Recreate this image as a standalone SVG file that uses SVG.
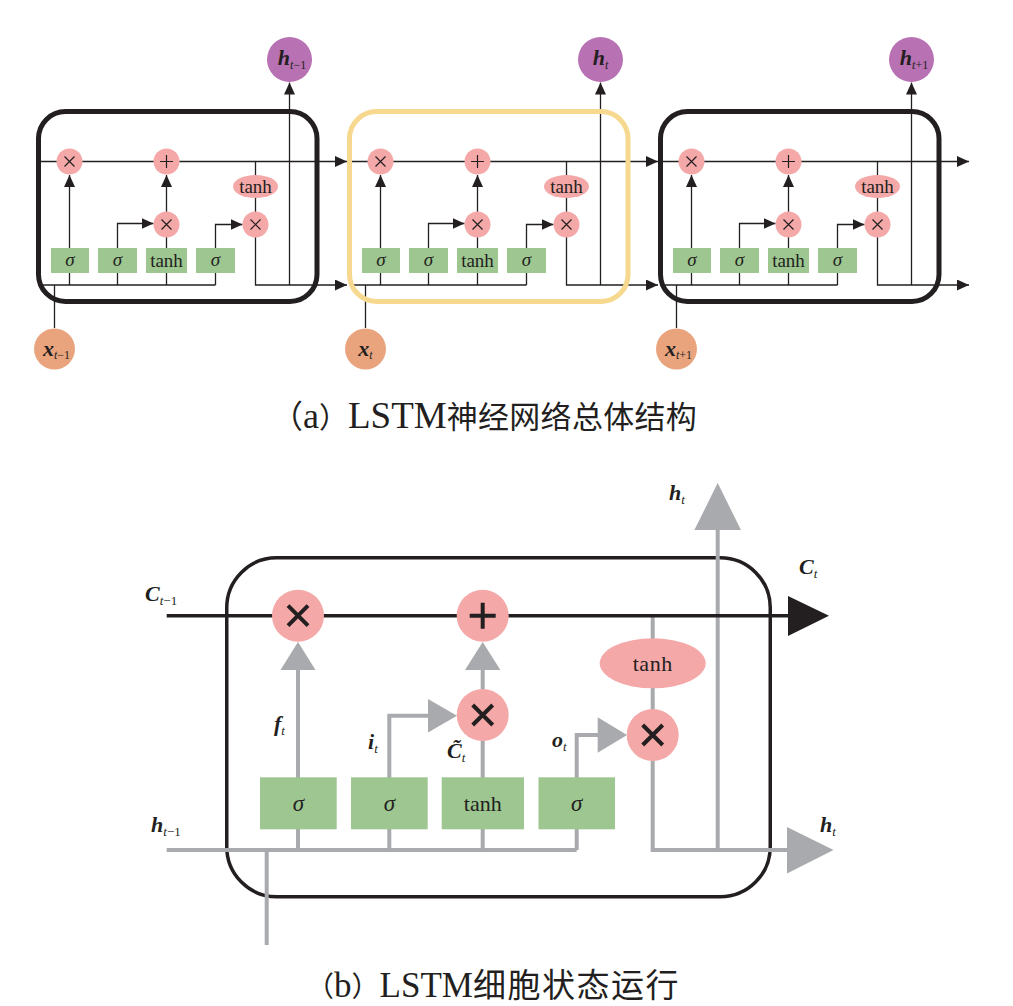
<svg xmlns="http://www.w3.org/2000/svg" xmlns:xlink="http://www.w3.org/1999/xlink" width="1013" height="1006" viewBox="0 0 1013 1006">
<style>
.bg{fill:#ffffff}
.cellK{fill:none;stroke:#231f20;stroke-width:5}
.cellY{fill:none;stroke:#f6d98e;stroke-width:5}
.ln{fill:none;stroke:#231f20;stroke-width:1.3}
.pk{fill:#f4a8a8}
.gr{fill:#9dc690}
.pu{fill:#b871b2}
.or{fill:#e9a47e}
.sym{stroke:#231f20;stroke-width:1.2;fill:none}
.symB{stroke:#231f20;stroke-width:4;fill:none}
.gl{fill:none;stroke:#a8aaad;stroke-width:4}
.gh{fill:#a8aaad}
.bk{fill:none;stroke:#231f20;stroke-width:3.5}
.t{font-family:"Liberation Serif",serif;fill:#231f20}
.v{font-family:"Liberation Serif",serif;font-weight:bold;font-style:italic;fill:#231f20}
.sb{font-family:"Liberation Serif",serif;font-weight:normal;fill:#231f20}
.it{font-style:italic}
.cap{fill:#231f20}
.capL{font-family:"Liberation Serif",serif}
.capC{font-family:"Noto Sans CJK SC",sans-serif}
</style>
<defs>
<marker id="ah" viewBox="0 0 12 11" refX="12" refY="5.5" markerWidth="12" markerHeight="11" markerUnits="userSpaceOnUse" orient="auto">
<path d="M0,0 L12,5.5 L0,11 z" fill="#231f20"/>
</marker>
<g id="ms"><path class="sym" d="M-5,-5 L5,5 M5,-5 L-5,5"/></g>
<g id="ps"><path class="sym" d="M-6.5,0 L6.5,0 M0,-6.5 L0,6.5"/></g>
<g id="mb"><path class="symB" d="M-10,-10 L10,10 M10,-10 L-10,10"/></g>
<g id="pb"><path class="symB" d="M-13,0 L13,0 M0,-13 L0,13"/></g>
</defs>
<rect class="bg" x="0" y="0" width="1013" height="1006"/>

<!-- ===== Panel (a) connectors ===== -->
<g id="connectors-a">
  <!-- cell 1 -->
  <path class="ln" d="M40 161.5 H347" marker-end="url(#ah)"/>
  <path class="ln" d="M40 285 H215.5"/>
  <path class="ln" d="M69.5 285 V175" marker-end="url(#ah)"/>
  <path class="ln" d="M117.5 285 V223.5 H153.5" marker-end="url(#ah)"/>
  <path class="ln" d="M166.5 285 V175" marker-end="url(#ah)"/>
  <path class="ln" d="M215.5 285 V224.5 H242.5" marker-end="url(#ah)"/>
  <path class="ln" d="M255.5 161.5 V285 H347" marker-end="url(#ah)"/>
  <path class="ln" d="M289.5 285 V82.5" marker-end="url(#ah)"/>
  <path class="ln" d="M54.5 328 V285"/>
  <!-- cell 2 -->
  <path class="ln" d="M349 161.5 H658" marker-end="url(#ah)"/>
  <path class="ln" d="M349 285 H526.5"/>
  <path class="ln" d="M380.5 285 V175" marker-end="url(#ah)"/>
  <path class="ln" d="M428.5 285 V223.5 H464.5" marker-end="url(#ah)"/>
  <path class="ln" d="M477.5 285 V175" marker-end="url(#ah)"/>
  <path class="ln" d="M526.5 285 V224.5 H553.5" marker-end="url(#ah)"/>
  <path class="ln" d="M566.5 161.5 V285 H658" marker-end="url(#ah)"/>
  <path class="ln" d="M600.5 285 V82.5" marker-end="url(#ah)"/>
  <path class="ln" d="M365.5 328 V285"/>
  <!-- cell 3 -->
  <path class="ln" d="M660 161.5 H969" marker-end="url(#ah)"/>
  <path class="ln" d="M660 285 H837.5"/>
  <path class="ln" d="M691.5 285 V175" marker-end="url(#ah)"/>
  <path class="ln" d="M739.5 285 V223.5 H775.5" marker-end="url(#ah)"/>
  <path class="ln" d="M788.5 285 V175" marker-end="url(#ah)"/>
  <path class="ln" d="M837.5 285 V224.5 H864.5" marker-end="url(#ah)"/>
  <path class="ln" d="M877.5 161.5 V285 H969" marker-end="url(#ah)"/>
  <path class="ln" d="M911.5 285 V82.5" marker-end="url(#ah)"/>
  <path class="ln" d="M676.5 328 V285"/>
</g>

<!-- ===== Panel (a) nodes ===== -->
<g id="cell1-box"><rect class="cellK" x="38.5" y="111.5" width="278.5" height="190" rx="27"/></g>
<g id="cell2-box"><rect class="cellY" x="349.5" y="111.5" width="278.5" height="190" rx="27"/></g>
<g id="cell3-box"><rect class="cellK" x="660.5" y="111.5" width="278.5" height="190" rx="27"/></g>

<g id="c1-mul1"><circle class="pk" cx="69.5" cy="161.5" r="13"/><use href="#ms" x="69.5" y="161.5"/></g>
<g id="c1-add"><circle class="pk" cx="166.5" cy="161.5" r="13"/><use href="#ps" x="166.5" y="161.5"/></g>
<g id="c1-mul2"><circle class="pk" cx="166.5" cy="224.5" r="13"/><use href="#ms" x="166.5" y="224.5"/></g>
<g id="c1-tanh"><ellipse class="pk" cx="255.5" cy="186.5" rx="22.5" ry="11.5"/><text class="t" x="255.5" y="192.5" font-size="19" text-anchor="middle">tanh</text></g>
<g id="c1-mul3"><circle class="pk" cx="255.5" cy="224.5" r="13"/><use href="#ms" x="255.5" y="224.5"/></g>
<g id="c1-g1"><rect class="gr" x="51" y="248" width="38" height="25"/><text class="t it" x="70" y="266" font-size="19" text-anchor="middle">σ</text></g>
<g id="c1-g2"><rect class="gr" x="98" y="248" width="39" height="25"/><text class="t it" x="117.5" y="266" font-size="19" text-anchor="middle">σ</text></g>
<g id="c1-g3"><rect class="gr" x="146" y="248" width="41" height="25"/><text class="t" x="166.5" y="267" font-size="19" text-anchor="middle">tanh</text></g>
<g id="c1-g4"><rect class="gr" x="196" y="248" width="39" height="25"/><text class="t it" x="215.5" y="266" font-size="19" text-anchor="middle">σ</text></g>
<g id="c1-x"><circle class="or" cx="54.5" cy="349" r="20.5"/><text x="56.5" y="355.5" text-anchor="middle"><tspan class="v" font-size="22">x</tspan><tspan class="sb it" font-size="12" dy="3">t</tspan><tspan class="sb" font-size="12">−1</tspan></text></g>
<g id="c1-h"><circle class="pu" cx="289.5" cy="59.5" r="22.5"/><text x="292" y="64.5" text-anchor="middle"><tspan class="v" font-size="22">h</tspan><tspan class="sb it" font-size="12" dy="4">t</tspan><tspan class="sb" font-size="12">−1</tspan></text></g>

<g id="c2-mul1"><circle class="pk" cx="380.5" cy="161.5" r="13"/><use href="#ms" x="380.5" y="161.5"/></g>
<g id="c2-add"><circle class="pk" cx="477.5" cy="161.5" r="13"/><use href="#ps" x="477.5" y="161.5"/></g>
<g id="c2-mul2"><circle class="pk" cx="477.5" cy="224.5" r="13"/><use href="#ms" x="477.5" y="224.5"/></g>
<g id="c2-tanh"><ellipse class="pk" cx="566.5" cy="186.5" rx="22.5" ry="11.5"/><text class="t" x="566.5" y="192.5" font-size="19" text-anchor="middle">tanh</text></g>
<g id="c2-mul3"><circle class="pk" cx="566.5" cy="224.5" r="13"/><use href="#ms" x="566.5" y="224.5"/></g>
<g id="c2-g1"><rect class="gr" x="362" y="248" width="38" height="25"/><text class="t it" x="381" y="266" font-size="19" text-anchor="middle">σ</text></g>
<g id="c2-g2"><rect class="gr" x="409" y="248" width="39" height="25"/><text class="t it" x="428.5" y="266" font-size="19" text-anchor="middle">σ</text></g>
<g id="c2-g3"><rect class="gr" x="457" y="248" width="41" height="25"/><text class="t" x="477.5" y="267" font-size="19" text-anchor="middle">tanh</text></g>
<g id="c2-g4"><rect class="gr" x="507" y="248" width="39" height="25"/><text class="t it" x="526.5" y="266" font-size="19" text-anchor="middle">σ</text></g>
<g id="c2-x"><circle class="or" cx="365.5" cy="349" r="20.5"/><text x="365.5" y="355.5" text-anchor="middle"><tspan class="v" font-size="22">x</tspan><tspan class="sb it" font-size="12" dy="3">t</tspan></text></g>
<g id="c2-h"><circle class="pu" cx="600.5" cy="59.5" r="22.5"/><text x="600.5" y="64.5" text-anchor="middle"><tspan class="v" font-size="22">h</tspan><tspan class="sb it" font-size="12" dy="4">t</tspan></text></g>

<g id="c3-mul1"><circle class="pk" cx="691.5" cy="161.5" r="13"/><use href="#ms" x="691.5" y="161.5"/></g>
<g id="c3-add"><circle class="pk" cx="788.5" cy="161.5" r="13"/><use href="#ps" x="788.5" y="161.5"/></g>
<g id="c3-mul2"><circle class="pk" cx="788.5" cy="224.5" r="13"/><use href="#ms" x="788.5" y="224.5"/></g>
<g id="c3-tanh"><ellipse class="pk" cx="877.5" cy="186.5" rx="22.5" ry="11.5"/><text class="t" x="877.5" y="192.5" font-size="19" text-anchor="middle">tanh</text></g>
<g id="c3-mul3"><circle class="pk" cx="877.5" cy="224.5" r="13"/><use href="#ms" x="877.5" y="224.5"/></g>
<g id="c3-g1"><rect class="gr" x="673" y="248" width="38" height="25"/><text class="t it" x="692" y="266" font-size="19" text-anchor="middle">σ</text></g>
<g id="c3-g2"><rect class="gr" x="720" y="248" width="39" height="25"/><text class="t it" x="739.5" y="266" font-size="19" text-anchor="middle">σ</text></g>
<g id="c3-g3"><rect class="gr" x="768" y="248" width="41" height="25"/><text class="t" x="788.5" y="267" font-size="19" text-anchor="middle">tanh</text></g>
<g id="c3-g4"><rect class="gr" x="818" y="248" width="39" height="25"/><text class="t it" x="837.5" y="266" font-size="19" text-anchor="middle">σ</text></g>
<g id="c3-x"><circle class="or" cx="676.5" cy="349" r="20.5"/><text x="678.5" y="355.5" text-anchor="middle"><tspan class="v" font-size="22">x</tspan><tspan class="sb it" font-size="12" dy="3">t</tspan><tspan class="sb" font-size="12">+1</tspan></text></g>
<g id="c3-h"><circle class="pu" cx="911.5" cy="59.5" r="22.5"/><text x="914" y="64.5" text-anchor="middle"><tspan class="v" font-size="22">h</tspan><tspan class="sb it" font-size="12" dy="4">t</tspan><tspan class="sb" font-size="12">+1</tspan></text></g>

<g id="caption-a">
  <text class="cap" x="271" y="428"><tspan class="capC" font-size="32">（</tspan><tspan class="capL" font-size="36">a</tspan><tspan class="capC" font-size="29">）</tspan><tspan class="capL" font-size="37">LSTM</tspan><tspan class="capC" font-size="31" letter-spacing="0.3">神经网络总体结构</tspan></text>
</g>

<!-- ===== Panel (b) ===== -->
<g id="b-box"><rect class="bk" x="226.75" y="557.75" width="543.5" height="339" rx="50"/></g>

<g id="connectors-b">
  <path class="gl" d="M166.7 850 H576.7"/>
  <path class="gl" d="M266.7 850 V945"/>
  <path class="gl" d="M298 850 V669"/>
  <polygon class="gh" points="280.5,670 315.5,670 298,642"/>
  <path class="gl" d="M389.3 850 V715.7 H429"/>
  <polygon class="gh" points="428,699 428,732.4 457,715.7"/>
  <path class="gl" d="M482.7 850 V669"/>
  <polygon class="gh" points="465,670 500.4,670 482.7,642"/>
  <path class="gl" d="M576.7 850 V735 H598.7"/>
  <polygon class="gh" points="597.7,717.3 597.7,752.7 627,735"/>
  <path class="gl" d="M652.7 616 V850 H788"/>
  <polygon class="gh" points="787,827 787,873.5 833.5,850"/>
  <path class="gl" d="M717.7 850 V529"/>
  <polygon class="gh" points="694.4,530 741,530 717.7,483"/>
  <path class="bk" d="M166.7 615.7 H790"/>
  <polygon fill="#231f20" points="788,596 788,636 829,615.7"/>
</g>

<g id="b-mul-f"><circle class="pk" cx="298" cy="615.7" r="26"/><use href="#mb" x="298" y="615.7"/></g>
<g id="b-add"><circle class="pk" cx="482.7" cy="615.7" r="26"/><use href="#pb" x="482.7" y="615.7"/></g>
<g id="b-mul-i"><circle class="pk" cx="482.7" cy="715" r="26"/><use href="#mb" x="482.7" y="715"/></g>
<g id="b-tanh"><ellipse class="pk" cx="652.7" cy="663.3" rx="53" ry="25"/><text class="t" x="652.7" y="671" font-size="22" text-anchor="middle" letter-spacing="0.5">tanh</text></g>
<g id="b-mul-o"><circle class="pk" cx="652.7" cy="735" r="26"/><use href="#mb" x="652.7" y="735"/></g>
<g id="b-g1"><rect class="gr" x="260" y="777.3" width="76.7" height="52"/><text class="t it" x="298.3" y="811" font-size="23" text-anchor="middle">σ</text></g>
<g id="b-g2"><rect class="gr" x="351" y="777.3" width="76.7" height="52"/><text class="t it" x="389.3" y="811" font-size="23" text-anchor="middle">σ</text></g>
<g id="b-g3"><rect class="gr" x="441.7" y="777.3" width="82.3" height="52"/><text class="t" x="482.8" y="811" font-size="22" text-anchor="middle">tanh</text></g>
<g id="b-g4"><rect class="gr" x="538.5" y="777.3" width="76.5" height="52"/><text class="t it" x="576.7" y="811" font-size="23" text-anchor="middle">σ</text></g>

<g id="b-labels">
  <text x="145" y="601"><tspan class="v" font-size="22">C</tspan><tspan class="sb it" font-size="13" dy="4">t</tspan><tspan class="sb" font-size="13">−1</tspan></text>
  <text x="799" y="574"><tspan class="v" font-size="22">C</tspan><tspan class="sb it" font-size="13" dy="4">t</tspan></text>
  <text x="669" y="500"><tspan class="v" font-size="22">h</tspan><tspan class="sb it" font-size="13" dy="4">t</tspan></text>
  <text x="820" y="832"><tspan class="v" font-size="22">h</tspan><tspan class="sb it" font-size="13" dy="4">t</tspan></text>
  <text x="151" y="832"><tspan class="v" font-size="22">h</tspan><tspan class="sb it" font-size="13" dy="4">t</tspan><tspan class="sb" font-size="13">−1</tspan></text>
  <text x="274" y="731"><tspan class="v" font-size="22">f</tspan><tspan class="sb it" font-size="13" dy="4">t</tspan></text>
  <text x="368" y="749"><tspan class="v" font-size="22">i</tspan><tspan class="sb it" font-size="13" dy="4">t</tspan></text>
  <text x="552" y="747"><tspan class="v" font-size="22">o</tspan><tspan class="sb it" font-size="13" dy="4">t</tspan></text>
  <text x="447" y="758"><tspan class="v" font-size="22">C̃</tspan><tspan class="sb it" font-size="13" dy="4">t</tspan></text>
</g>

<g id="caption-b">
  <text class="cap" x="306" y="997"><tspan class="capC" font-size="28">（</tspan><tspan class="capL" font-size="35">b</tspan><tspan class="capC" font-size="28">）</tspan><tspan class="capL" font-size="35">LSTM</tspan><tspan class="capC" font-size="33" letter-spacing="1.5">细胞状态运行</tspan></text>
</g>
</svg>
